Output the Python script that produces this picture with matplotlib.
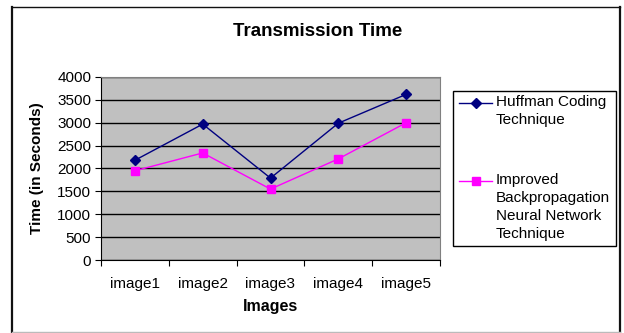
import matplotlib
matplotlib.use("Agg")
import matplotlib.pyplot as plt
from matplotlib.lines import Line2D
import numpy as np

plt.rcParams['font.family'] = ['Liberation Sans', 'DejaVu Sans']

categories = ["image1", "image2", "image3", "image4", "image5"]
huffman = [2180, 2970, 1790, 2990, 3620]
improved = [1950, 2340, 1550, 2210, 3000]
y_ticks = [0, 500, 1000, 1500, 2000, 2500, 3000, 3500, 4000]
series_labels = ["Huffman Coding\nTechnique",
                 "Improved\nBackpropagation\nNeural Network\nTechnique"]

W, H = 624, 333
fig = plt.figure(figsize=(W / 100, H / 100), dpi=100)
fig.patch.set_facecolor("white")


def fx(px):
    return px / W


def fy(py):
    return 1 - py / H


# outer chart frame
fl, fr, ft, fb = 12, 620, 7, 332
fig.add_artist(Line2D([fx(fl), fx(fl)], [fy(ft), fy(fb)], color="#111111", lw=1.6))
fig.add_artist(Line2D([fx(fr), fx(fr)], [fy(ft), fy(fb)], color="#111111", lw=1.6))
fig.add_artist(Line2D([fx(fl), fx(fr)], [fy(ft), fy(ft)], color="#111111", lw=1.0))
fig.add_artist(Line2D([fx(fl), fx(fr)], [fy(fb), fy(fb)], color="#BBBBBB", lw=1.0))

left, right, top, bottom = 101, 440, 77, 260
ax = fig.add_axes([fx(left), fy(bottom), (right - left) / W, (bottom - top) / H])
ax.set_facecolor("#C0C0C0")

colors = ["#000080", "#FF00FF"]
markers = ["D", "s"]
msizes = [5, 6]
x = np.arange(len(categories))
for vals, c, m, ms in zip([huffman, improved], colors, markers, msizes):
    ax.plot(x, vals, color=c, marker=m, markersize=ms, linewidth=1)

ax.set_xlim(-0.5, len(categories) - 0.5)
ax.set_ylim(0, 4000)
ax.set_yticks(y_ticks)
ax.set_yticklabels([str(v) for v in y_ticks], fontsize=11)
ax.yaxis.grid(True, color="black", linewidth=1)
ax.set_axisbelow(True)

ax.set_xticks(np.arange(len(categories) + 1) - 0.5)
ax.set_xticklabels([])
ax.set_xticks(x, minor=True)
ax.set_xticklabels(categories, minor=True, fontsize=11)
ax.tick_params(axis="x", which="minor", length=0, pad=12)
ax.tick_params(axis="x", which="major", length=4, direction="out", color="black")
ax.tick_params(axis="y", length=4, direction="out", pad=3)

for s in ["top", "right"]:
    ax.spines[s].set_color("#808080")
for s in ["left", "bottom"]:
    ax.spines[s].set_color("black")

fig.text(fx((left + right) / 2), fy(307), "Images", ha="center", va="center",
         fontsize=11.5, fontweight="bold")
fig.text(fx(37), fy(168), "Time (in Seconds)", ha="center", va="center",
         rotation=90, fontsize=11, fontweight="bold")
fig.text(fx(318), fy(31), "Transmission Time", ha="center", va="center",
         fontsize=13.5, fontweight="bold")

# legend box, drawn by hand so the wrapped labels sit as in a spreadsheet chart
fig.add_artist(plt.Rectangle((fx(453), fy(246)), (616 - 453) / W, (246 - 91) / H,
                             transform=fig.transFigure, fill=False,
                             edgecolor="black", linewidth=1))
entry_tops = [102, 180]
line_step = 18
for label, c, m, ms, y0 in zip(series_labels, colors, markers, msizes, entry_tops):
    fig.add_artist(Line2D([fx(459), fx(492)], [fy(y0 + 1), fy(y0 + 1)],
                          color=c, lw=1))
    fig.add_artist(Line2D([fx(475.5)], [fy(y0 + 1)], color=c, marker=m,
                          markersize=ms, lw=0))
    for i, line in enumerate(label.split("\n")):
        fig.text(fx(496), fy(y0 + i * line_step), line, ha="left",
                 va="center", fontsize=11)

fig.savefig("out.png", dpi=100)
